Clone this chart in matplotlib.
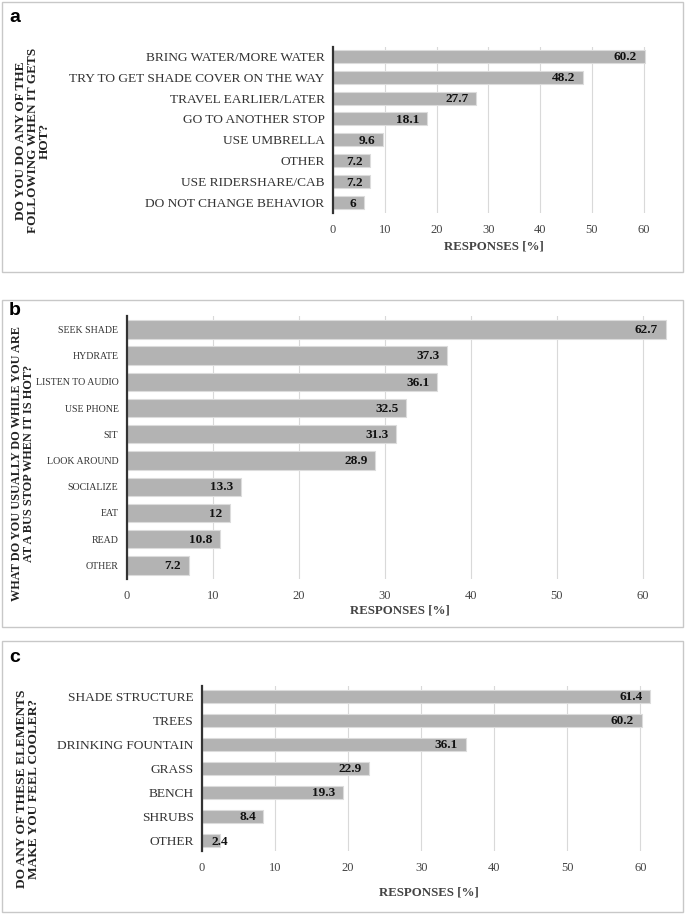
import matplotlib
matplotlib.use('Agg')
import matplotlib.pyplot as plt
from matplotlib.patches import Rectangle

plt.rcParams['font.family'] = ['Liberation Serif', 'DejaVu Serif']

# panel data
a_labels = ['BRING WATER/MORE WATER', 'TRY TO GET SHADE COVER ON THE WAY',
            'TRAVEL EARLIER/LATER', 'GO TO ANOTHER STOP', 'USE UMBRELLA',
            'OTHER', 'USE RIDERSHARE/CAB', 'DO NOT CHANGE BEHAVIOR']
a_values = [60.2, 48.2, 27.7, 18.1, 9.6, 7.2, 7.2, 6]
a_title = 'DO YOU DO ANY OF THE\nFOLLOWING WHEN IT GETS\nHOT?'

b_labels = ['SEEK SHADE', 'HYDRATE', 'LISTEN TO AUDIO', 'USE PHONE', 'SIT',
            'LOOK AROUND', 'SOCIALIZE', 'EAT', 'READ', 'OTHER']
b_values = [62.7, 37.3, 36.1, 32.5, 31.3, 28.9, 13.3, 12, 10.8, 7.2]
b_title = 'WHAT DO YOU USUALLY DO WHILE YOU ARE\nAT A BUS STOP WHEN IT IS HOT?'

c_labels = ['SHADE STRUCTURE', 'TREES', 'DRINKING FOUNTAIN', 'GRASS', 'BENCH',
            'SHRUBS', 'OTHER']
c_values = [61.4, 60.2, 36.1, 22.9, 19.3, 8.4, 2.4]
c_title = 'DO ANY OF THESE ELEMENTS\nMAKE YOU FEEL COOLER?'

xticks = [0, 10, 20, 30, 40, 50, 60]
BAR = '#b3b3b3'
GRID = '#d9d9d9'

fig = plt.figure(figsize=(6.85, 9.14), dpi=100)


def panel(rect, labels, values, title, letter, box, letter_pos, xmax,
          barh, ylim, catsize, title_pos, title_size, xlabel_pad):
    # outer frame
    fig.patches.append(Rectangle((box[0], box[1]), box[2], box[3],
                                 transform=fig.transFigure, fill=False,
                                 edgecolor='#c8c8c8', linewidth=1.0))
    fig.text(letter_pos[0], letter_pos[1], letter, family='Liberation Sans',
             fontweight='bold', fontsize=14, ha='left', va='center')
    ax = fig.add_axes(rect)
    y = list(range(len(values)))
    ax.barh(y, values, height=barh, color=BAR, edgecolor='#dcdcdc',
            linewidth=0.8, zorder=2)
    for yi, v in zip(y, values):
        if v < 4:
            # too short for an inside label: sit it just right of the axis
            ax.annotate(f'{v:g}', (0, yi), xytext=(6.5, -0.5),
                        textcoords='offset points', ha='left', va='center',
                        fontweight='bold', fontsize=9.5, color='#111111',
                        zorder=5)
        else:
            ax.annotate(f'{v:g}', (v, yi), xytext=(-5.5, -0.5),
                        textcoords='offset points', ha='right', va='center',
                        fontweight='bold', fontsize=9.5, color='#111111',
                        zorder=3)
    ax.set_yticks(y)
    ax.set_yticklabels(labels, fontsize=catsize, color='#333333')
    ax.set_ylim(*ylim)
    ax.set_xlim(0, xmax)
    ax.set_xticks(xticks)
    ax.set_xticklabels([str(t) for t in xticks], fontsize=9, color='#444444')
    ax.tick_params(length=0, pad=6)
    ax.tick_params(axis='x', pad=8)
    ax.grid(axis='x', color=GRID, linewidth=0.8, zorder=0)
    for s in ['top', 'right', 'bottom']:
        ax.spines[s].set_visible(False)
    ax.spines['left'].set_color('#333333')
    ax.spines['left'].set_linewidth(1.6)
    ax.spines['left'].set_zorder(4)
    ax.set_xlabel('RESPONSES [%]', fontweight='bold', fontsize=9.3,
                  color='#444444', labelpad=xlabel_pad)
    fig.text(title_pos[0], title_pos[1], title, rotation=90,
             fontweight='bold', fontsize=title_size, ha='center', va='center',
             linespacing=1.0, color='#222222')
    return ax


panel([0.486, 0.767, 0.469, 0.182], a_labels, a_values, a_title, 'a',
      (0.003, 0.702, 0.994, 0.296), (0.013, 0.981), 62, 0.62,
      (7.48, -0.45), 9.6, (0.048, 0.846), 9.5, 3)
panel([0.185, 0.367, 0.797, 0.287], b_labels, b_values, b_title, 'b',
      (0.003, 0.314, 0.994, 0.358), (0.012, 0.660), 63.5, 0.7,
      (9.5, -0.5), 7.1, (0.034, 0.493), 8.85, 2)
panel([0.295, 0.069, 0.661, 0.181], c_labels, c_values, c_title, 'c',
      (0.003, 0.002, 0.994, 0.297), (0.013, 0.281), 62, 0.55,
      (6.42, -0.46), 9.6, (0.041, 0.137), 9.6, 9)

fig.savefig('out.png', dpi=100)
